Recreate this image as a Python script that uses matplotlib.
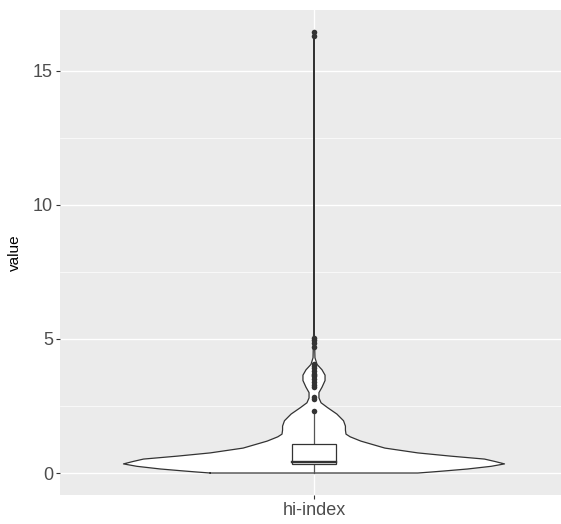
import matplotlib
matplotlib.use("Agg")
import matplotlib.pyplot as plt
import numpy as np

# violin profile: value level and relative density (max = 1)
levels = [0.00, 0.04, 0.08, 0.15, 0.25, 0.34, 0.43, 0.52, 0.63, 0.75, 0.93, 1.19, 1.35,
          1.45, 1.60, 1.75, 1.95, 2.20, 2.43, 2.62, 2.80, 3.00, 3.20, 3.45, 3.65,
          3.85, 4.05, 4.30, 4.90, 5.50, 16.45]
density = [0.545, 0.62, 0.69, 0.806, 0.93, 1.0, 0.95, 0.895, 0.717, 0.545, 0.372, 0.246, 0.19,
           0.168, 0.165, 0.165, 0.155, 0.12, 0.073, 0.037, 0.026, 0.026, 0.042, 0.058, 0.058,
           0.042, 0.016, 0.005, 0.003, 0.001, 0.001]

# box statistics
q1, median, q3 = 0.32, 0.42, 1.07
whisker_lo, whisker_hi = 0.0, 2.2
outliers = [2.31, 2.76, 2.85, 3.2, 3.3, 3.4, 3.5, 3.6, 3.65, 3.7, 3.8, 3.9, 4.0, 4.07,
            4.7, 4.86, 4.95, 5.05, 16.3, 16.45]

category = "hi-index"

fig = plt.figure(figsize=(5.61, 5.24), dpi=100)
ax = fig.add_axes([60/561, 1-495/524, 508/561, 485/524])
ax.set_facecolor("#EBEBEB")
for s in ax.spines.values():
    s.set_visible(False)

ax.set_xlim(-0.6, 0.6)
ax.set_ylim(-0.82, 17.27)

# grid
for y in [2.5, 7.5, 12.5]:
    ax.axhline(y, color="white", lw=0.5, zorder=0)
for y in [0, 5, 10, 15]:
    ax.axhline(y, color="white", lw=1.0, zorder=0)
ax.axvline(0, color="white", lw=1.0, zorder=0)

# violin
lv = np.array(levels)
hw = 0.45 * np.array(density)
ax.fill_betweenx(lv, -hw, hw, facecolor="white", edgecolor="none", zorder=2)
xs = np.concatenate([-hw, hw[::-1], [-hw[0]]])
ys = np.concatenate([lv, lv[::-1], [lv[0]]])
ax.plot(xs, ys, color="#333333", lw=0.9, zorder=3)

# boxplot
bw = 0.052
ax.plot([0, 0], [whisker_lo, q1], color="#555555", lw=0.9, zorder=4)
ax.plot([0, 0], [q3, whisker_hi], color="#555555", lw=0.9, zorder=4)
ax.add_patch(plt.Rectangle((-bw, q1), 2*bw, q3-q1, facecolor="white",
                           edgecolor="#333333", lw=0.9, zorder=5))
ax.plot([-bw, bw], [median, median], color="#333333", lw=1.7, zorder=6)
ax.scatter(np.zeros(len(outliers)), outliers, s=16, color="#333333", zorder=7,
           linewidths=0)

ax.set_xticks([0])
ax.set_xticklabels([category])
ax.set_yticks([0, 5, 10, 15])
ax.set_yticklabels(["0", "5", "10", "15"])
ax.tick_params(axis="both", colors="#333333", length=3, width=0.8,
               labelsize=13, labelcolor="#4D4D4D", pad=2)
for lab in ax.get_xticklabels() + ax.get_yticklabels():
    lab.set_family("Liberation Sans")
ax.set_ylabel("value", fontsize=11, family="Liberation Sans", color="black", labelpad=8)

fig.savefig("out.png", dpi=100)
